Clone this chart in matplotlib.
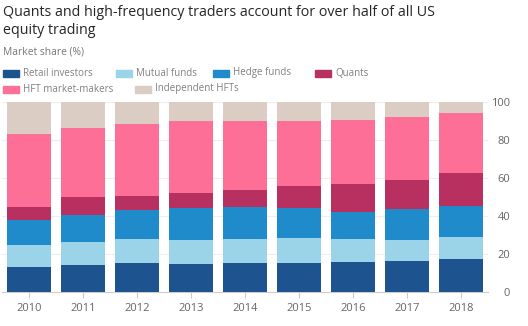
import numpy as np
import matplotlib
matplotlib.use("Agg")
import matplotlib.pyplot as plt
from matplotlib.patches import Rectangle

plt.rcParams["font.family"] = ["Open Sans", "DejaVu Sans"]

# ── Data (market share, %) ────────────────────────────────────────────────────
years = ["2010", "2011", "2012", "2013", "2014", "2015", "2016", "2017", "2018"]
retail = [13.1, 13.9, 15.0, 14.5, 15.0, 15.2, 15.7, 16.0, 17.1]
mutual = [11.4, 12.1, 12.5, 12.4, 12.5, 12.8, 11.8, 10.9, 11.7]
hedge = [13.0, 14.4, 15.4, 17.0, 16.8, 16.1, 14.5, 16.5, 16.2]
quants = [6.8, 9.2, 7.5, 7.9, 8.9, 11.3, 14.4, 15.4, 17.5]
hft_mm = [38.6, 36.5, 37.6, 37.8, 36.7, 34.5, 34.0, 33.2, 31.4]
indep = [17.1, 13.9, 12.0, 10.4, 10.1, 10.1, 9.6, 8.0, 6.1]

labels = ["Retail investors", "Mutual funds", "Hedge funds", "Quants",
          "HFT market-makers", "Independent HFTs"]
colours = ["#1d5490", "#9bd3e8", "#1f8bcb", "#b8305f", "#fd6f97", "#dbcdc3"]

series = [retail, mutual, hedge, quants, hft_mm, indep]

fig = plt.figure(figsize=(5.28, 3.26), dpi=100)
fig.patch.set_facecolor("white")
ax = fig.add_axes([2 / 528, 1 - 291.5 / 326, 486 / 528, 190 / 326])

x = np.arange(len(years))
bottom = np.zeros(len(years))
for vals, col in zip(series, colours):
    ax.bar(x, vals, width=0.8, bottom=bottom, color=col, zorder=3)
    bottom += np.array(vals)

ax.set_xlim(-0.5, len(years) - 0.5)
ax.set_ylim(0, 100)
ax.set_yticks([0, 20, 40, 60, 80, 100])
ax.yaxis.tick_right()
ax.grid(axis="y", color="#eeeeee", linewidth=0.8, zorder=0)
for lab in ax.get_yticklabels():
    lab.set_horizontalalignment("right")
ax.tick_params(axis="y", length=0, pad=16, labelsize=8, labelcolor="#666666")
ax.set_xticks(x)
ax.set_xticklabels(years)
ax.tick_params(axis="x", length=4, color="#cccccc", width=0.8, pad=4,
               labelsize=8, labelcolor="#666666")
for side in ["top", "right", "left"]:
    ax.spines[side].set_visible(False)
ax.spines["bottom"].set_color("#cccccc")
ax.spines["bottom"].set_linewidth(0.8)

# ── Titles ────────────────────────────────────────────────────────────────────
fig.text(3 / 528, 1 - 12 / 326,
         "Quants and high-frequency traders account for over half of all US",
         fontsize=10.3, color="#262626", va="center", ha="left")
fig.text(3 / 528, 1 - 30 / 326, "equity trading",
         fontsize=10.3, color="#262626", va="center", ha="left")
fig.text(3 / 528, 1 - 52 / 326, "Market share (%)",
         fontsize=7.4, color="#777777", va="center", ha="left")

# ── Legend (flowing, placed by hand) ─────────────────────────────────────────
legend_pos = [(3, 73), (116, 73), (213, 73), (315, 73), (3, 89), (135, 89)]
for (px, py), lab, col in zip(legend_pos, labels, colours):
    fig.add_artist(Rectangle((px / 528, 1 - (py + 3.5) / 326), 16 / 528, 7 / 326,
                             transform=fig.transFigure, color=col))
    fig.text((px + 20) / 528, 1 - py / 326, lab, fontsize=7,
             color="#808080", va="center", ha="left")

fig.savefig("out.png", dpi=100)
